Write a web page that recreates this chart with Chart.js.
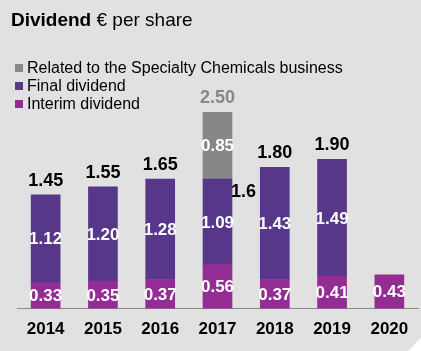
<!DOCTYPE html>
<html>
<head>
<meta charset="utf-8">
<script src="https://cdn.jsdelivr.net/npm/chart.js@4"></script>
<style>
    html, body { margin: 0; padding: 0; background: #fff; }
    #box {
        position: relative; width: 421px; height: 351px; background: #e1e1e1;
        clip-path: polygon(0 0, 421px 0, 421px 338px, 408px 351px, 0 351px);
        font-family: "Liberation Sans", Arial, sans-serif; color: #000;
    }
    #chart { position: absolute; left: 0; top: 0; }
    .title { position: absolute; left: 11px; top: 8px; font-size: 19px; line-height: 24px; }
    .legend { position: absolute; left: 15px; top: 59px; font-size: 16px; line-height: 18px; }
    .legend div { position: relative; padding-left: 12px; }
    .legend span { position: absolute; left: 0; top: 5px; width: 8px; height: 8px; }
</style>
</head>
<body>
<div id="box">
    <canvas id="chart" width="421" height="351"></canvas>
    <div class="title"><b>Dividend</b> € per share</div>
    <div class="legend">
        <div><span style="background:#878787"></span>Related to the Specialty Chemicals business</div>
        <div><span style="background:#56378a"></span>Final dividend</div>
        <div><span style="background:#932c93"></span>Interim dividend</div>
    </div>
</div>
<script>
const years = ['2014', '2015', '2016', '2017', '2018', '2019', '2020'];
const interim = [0.33, 0.35, 0.37, 0.56, 0.37, 0.41, 0.43];
const finalDiv = [1.12, 1.20, 1.28, 1.09, 1.43, 1.49, null];
const specialty = [null, null, null, 0.85, null, null, null];
const totals = ['1.45', '1.55', '1.65', '2.50', '1.80', '1.90', null];

const colors = {
    interim: '#932c93',
    final: '#56378a',
    specialty: '#878787',
};

// white numbers in the segments, totals above, and the odd "1.6" next to 2017
const labelPlugin = {
    id: 'labels',
    afterDatasetsDraw(chart) {
        const ctx = chart.ctx;
        ctx.save();
        ctx.textAlign = 'center';
        ctx.textBaseline = 'middle';
        ctx.font = 'bold 17px "Liberation Sans", Arial, sans-serif';
        ctx.fillStyle = '#fff';
        chart.data.datasets.forEach(function (ds, i) {
            chart.getDatasetMeta(i).data.forEach(function (bar, j) {
                if (ds.data[j] == null) return;
                ctx.fillText(ds.data[j].toFixed(2), bar.x, (bar.y + bar.base) / 2 + 1);
            });
        });
        ctx.font = 'bold 18px "Liberation Sans", Arial, sans-serif';
        totals.forEach(function (t, j) {
            if (t == null) return;
            let top = chart.scales.x.bottom;
            chart.data.datasets.forEach(function (ds, i) {
                const bar = chart.getDatasetMeta(i).data[j];
                if (ds.data[j] != null) top = Math.min(top, bar.y);
            });
            ctx.fillStyle = t === '2.50' ? '#878787' : '#000';
            ctx.fillText(t, chart.getDatasetMeta(0).data[j].x, top - 14);
        });
        const b = chart.getDatasetMeta(1).data[3];
        ctx.textAlign = 'left';
        ctx.fillStyle = '#000';
        ctx.fillText('1.6', b.x + b.width / 2 - 1, b.y + 13);
        ctx.restore();
    }
};

new Chart(document.getElementById('chart'), {
    type: 'bar',
    data: {
        labels: years,
        datasets: [
            { label: 'Interim dividend', data: interim, backgroundColor: colors.interim },
            { label: 'Final dividend', data: finalDiv, backgroundColor: colors.final },
            { label: 'Related to the Specialty Chemicals business', data: specialty, backgroundColor: colors.specialty },
        ]
    },
    options: {
        responsive: false,
        animation: false,
        layout: { padding: { left: 17, right: 3, top: 73, bottom: 0 } },
        datasets: { bar: { barThickness: 29 } },
        plugins: { legend: { display: false }, tooltip: { enabled: false } },
        scales: {
            x: {
                stacked: true,
                grid: { display: false, drawTicks: false },
                border: { display: true, color: '#8c8c8c', width: 1 },
                ticks: { color: '#000', padding: 11, font: { family: '"Liberation Sans", Arial, sans-serif', size: 17, weight: 'bold' } }
            },
            y: { stacked: true, display: false, min: 0, max: 3.0 }
        }
    },
    plugins: [labelPlugin]
});
</script>
</body>
</html>
